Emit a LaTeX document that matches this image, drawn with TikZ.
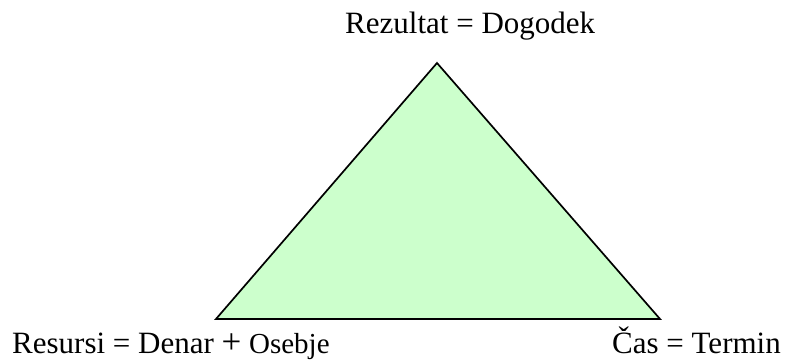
\documentclass[tikz,border=0pt]{standalone}
\usepackage{fontspec}
\setmainfont{Liberation Serif}
\definecolor{trifill}{HTML}{CCFFCC}
\begin{document}
\begin{tikzpicture}[x=1pt,y=1pt,
  lbl/.style={anchor=base west,inner sep=0pt,font=\fontsize{31}{37}\selectfont},
  tri/.style={draw=black,line width=1.7pt,fill=trifill,line join=miter}]
\useasboundingbox (0,0) rectangle (785,360);
\coordinate (apex) at (437,297);
\coordinate (bl) at (216,41);
\coordinate (br) at (660,41);
\draw[tri] (apex) -- (bl) -- (br) -- cycle;
\node[lbl] (top) at (345,327) {Rezultat = Dogodek};
\node[lbl] (left) at (12,6.5) {Resursi = Denar {\fontsize{35}{37}\selectfont +} {\fontsize{29}{35}\selectfont Osebje}};
\node[lbl] (right) at (612,6.5) {Čas = Termin};
\end{tikzpicture}
\end{document}
